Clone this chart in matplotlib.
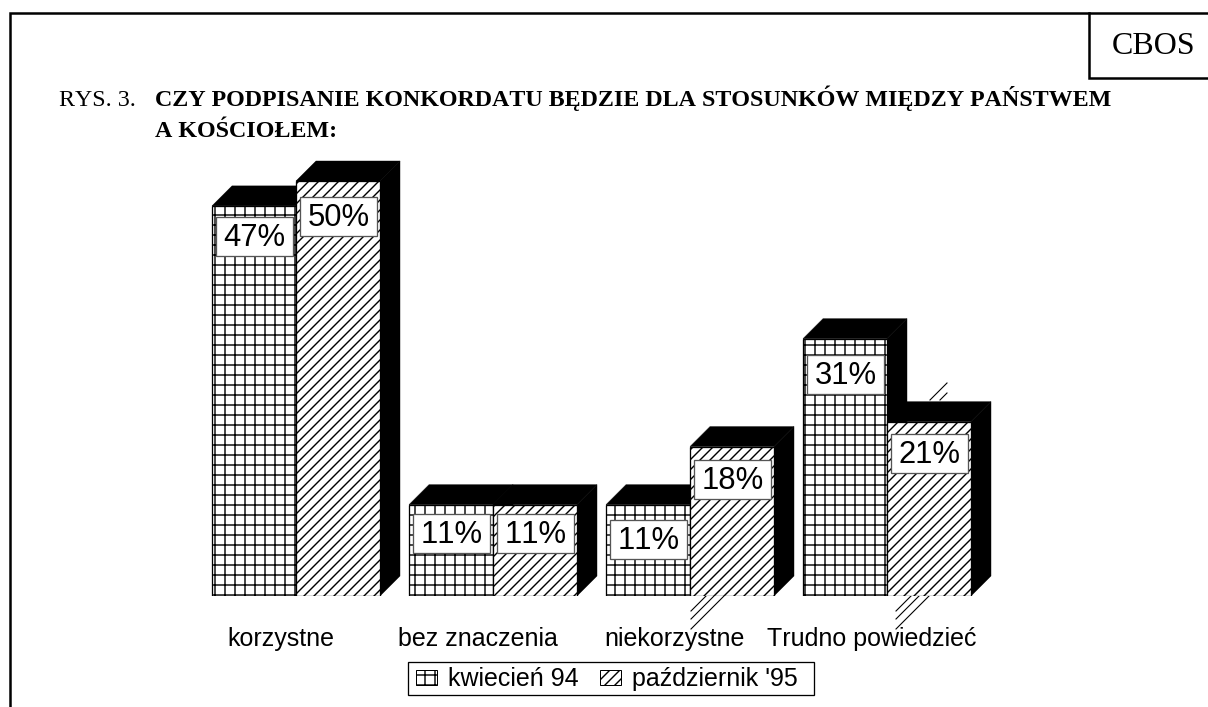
import matplotlib
matplotlib.use('Agg')
from matplotlib import pyplot as plt
from matplotlib.patches import Patch, Rectangle

categories = ['korzystne', 'bez znaczenia', 'niekorzystne', 'Trudno powiedzieć']
series_names = ['kwiecień 94', "październik '95"]
kwiecien = [47, 11, 11, 31]
pazdziernik = [50, 11, 18, 21]

title_lines = ['CZY PODPISANIE KONKORDATU BĘDZIE DLA STOSUNKÓW MIĘDZY PAŃSTWEM',
               'A KOŚCIOŁEM:']

# dpi 60 makes the hatch tile 60 px, so one '+' is a line every 10 px
DPI = 60
W, H = 1208, 707
plt.rcParams['hatch.linewidth'] = 1.7
plt.rcParams['text.kerning_factor'] = 6
SANS = 'Liberation Sans'
SERIF = 'Liberation Serif'


def pt(px):
    return px * 72 / DPI


fig = plt.figure(figsize=(W / DPI, H / DPI), dpi=DPI, facecolor='white')

# full page axes in pixels, for the frame and the heading
page = fig.add_axes([0, 0, 1, 1])
page.set_xlim(0, W)
page.set_ylim(H, 0)
page.axis('off')
page.plot([10, 10, W], [H, 13, 13], color='black', lw=pt(2.5), solid_joinstyle='miter')
page.plot([1089, 1089, W], [13, 78, 78], color='black', lw=pt(2.5), solid_joinstyle='miter')
page.text(1154, 46, 'CBOS', family=SERIF, fontsize=pt(32), ha='center', va='center')
page.text(59, 106, 'RYS. 3.', family=SERIF, fontsize=pt(24), va='baseline')
page.text(155, 106, title_lines[0], family=SERIF, weight='bold', fontsize=pt(24), va='baseline')
page.text(155, 137, title_lines[1], family=SERIF, weight='bold', fontsize=pt(24), va='baseline')
page.add_patch(Rectangle((408, 662), 406, 33, facecolor='white', edgecolor='black', lw=pt(1.3)))

# chart axes: one x unit is a group (197 px), one y unit is 8.3 px
GROUP_PX, UNIT_PX = 197, 8.3
BASE_PX, CENTER_PX = 596, 296
left_px, right_px, top_px = 180, 1010, 150
ax = fig.add_axes([left_px / W, 1 - BASE_PX / H, (right_px - left_px) / W, (BASE_PX - top_px) / H])
ax.set_xlim((left_px - CENTER_PX) / GROUP_PX, (right_px - CENTER_PX) / GROUP_PX)
ax.set_ylim(0, (BASE_PX - top_px) / UNIT_PX)
ax.patch.set_alpha(0)
for s in ax.spines.values():
    s.set_visible(False)
ax.set_yticks([])

bar_w = 84 / GROUP_PX
dx = 20 / GROUP_PX
dy = 20 / UNIT_PX
hatches = ['+', '//']
# vertical place of the value boxes under the bar top, px
label_drop = [[31, 28.5, 34.5, 35.5], [36, 28.5, 32.5, 31.5]]
box_w = 77 / GROUP_PX
box_h = 39 / UNIT_PX

positions = range(len(categories))
for i in positions:
    for j, values in enumerate([kwiecien, pazdziernik]):
        x0 = i + (j - 1) * bar_w
        x1 = x0 + bar_w
        h = values[i]
        z = 2 + i + j * 0.1
        ax.fill([x1, x1 + dx, x1 + dx, x1], [0, dy, h + dy, h], color='black', lw=0.5, zorder=z)
        ax.fill([x0, x0 + dx, x1 + dx, x1], [h, h + dy, h + dy, h], color='black', lw=0.5, zorder=z)
        ax.bar(x0, h, bar_w, align='edge', facecolor='white', edgecolor='black', hatch=hatches[j],
               lw=pt(1.3), zorder=z + 0.01)
        xc = x0 + bar_w / 2 + 0.5 / GROUP_PX
        yc = h - label_drop[j][i] / UNIT_PX
        ax.add_patch(Rectangle((xc - box_w / 2, yc - box_h / 2), box_w, box_h, facecolor='white',
                               edgecolor='#555555', lw=pt(1.3), zorder=20))
        ax.text(xc, yc - 1.5 / UNIT_PX, '%d%%' % h, family=SANS, fontsize=pt(31),
                ha='center', va='center', zorder=21)

# loose hatch strokes below the bars of niekorzystne / Trudno powiedzieć
for xs in [691, 896]:
    for n in [15, 23, 33]:
        page.plot([xs, xs + n], [596 + n, 596], color='black', lw=pt(1.1))
# and above the 21% bar
page.plot([930, 947], [400, 383], color='black', lw=pt(1.1))
page.plot([940, 947], [400, 393], color='black', lw=pt(1.1))

ax.set_xticks([p - 15 / GROUP_PX for p in positions])
ax.set_xticklabels(categories, family=SANS, fontsize=pt(25))
ax.tick_params(axis='x', length=0, pad=pt(31))

handles = [Patch(facecolor='white', edgecolor='black', hatch=hatches[0], lw=pt(1)),
           Patch(facecolor='white', edgecolor='black', hatch=hatches[1], lw=pt(1))]
leg = fig.legend(handles, series_names, loc='center', bbox_to_anchor=(607 / W, 1 - 679 / H),
                 ncol=2, frameon=False, prop={'family': SANS, 'size': pt(25)},
                 handlelength=0.84, handleheight=0.55, handletextpad=0.45, columnspacing=0.85,
                 borderpad=0, borderaxespad=0)

fig.savefig('out.png', dpi=DPI)
